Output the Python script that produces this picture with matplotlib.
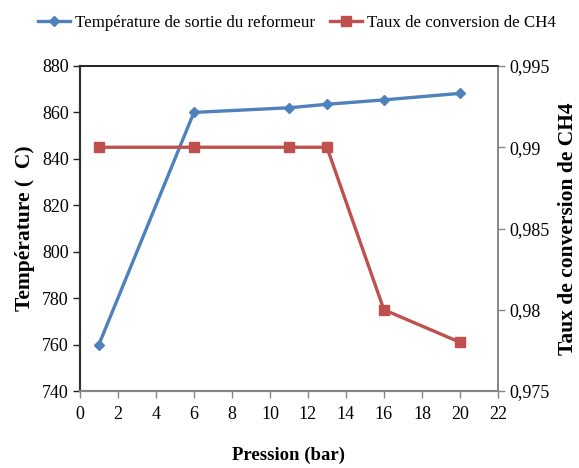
import matplotlib
matplotlib.use("Agg")
import matplotlib.pyplot as plt
from matplotlib.ticker import FuncFormatter

plt.rcParams['font.family'] = ['Liberation Serif', 'DejaVu Serif']

# Data
pression = [1, 6, 11, 13, 16, 20]
temperature = [760, 860, 862, 863.5, 865.4, 868.2]
conversion = [0.99, 0.99, 0.99, 0.99, 0.98, 0.978]

x_ticks = list(range(0, 23, 2))
temp_ticks = list(range(740, 881, 20))
conv_ticks = [0.975, 0.98, 0.985, 0.99, 0.995]

blue = '#4F81BD'
red = '#C0504D'
gray = '#868686'

fig = plt.figure(figsize=(5.79, 4.68), dpi=100)
ax = fig.add_axes([0.138, 0.1645, 0.722, 0.6945])
ax2 = ax.twinx()

l1, = ax.plot(pression, temperature, color=blue, lw=2.4, marker='D',
              markersize=5.5, label='Température de sortie du reformeur', zorder=3)
l2, = ax2.plot(pression, conversion, color=red, lw=2.4, marker='s',
               markersize=6.5, label='Taux de conversion de CH4', zorder=3)

ax.set_xlim(0, 22)
ax.set_ylim(740, 880)
ax2.set_ylim(0.975, 0.995)
ax.set_xticks(x_ticks)
ax.set_yticks(temp_ticks)
ax2.set_yticks(conv_ticks)

def comma_fmt(v, pos):
    s = ('%.3f' % v).rstrip('0').rstrip('.')
    return s.replace('.', ',')

ax2.yaxis.set_major_formatter(FuncFormatter(comma_fmt))

fs = 13
ax.tick_params(axis='x', direction='out', length=5, width=1, color=gray,
               labelsize=fs, pad=6)
ax.tick_params(axis='y', direction='out', length=5, width=1, color='#222222',
               labelsize=fs, pad=3)
ax2.tick_params(axis='y', direction='out', length=5, width=1, color=gray,
                labelsize=fs, pad=3)

for a in (ax, ax2):
    a.spines['top'].set_color('#222222')
    a.spines['top'].set_linewidth(1.2)
    a.spines['bottom'].set_color(gray)
    a.spines['bottom'].set_linewidth(1.5)
    a.spines['left'].set_color('#333333')
    a.spines['left'].set_linewidth(1.5)
    a.spines['right'].set_color(gray)
    a.spines['right'].set_linewidth(1.2)

ax.set_xlabel('Pression (bar)', fontsize=13.5, fontweight='bold', labelpad=17)
ax.set_ylabel('Température (  C)', fontsize=15.5, fontweight='bold', labelpad=5)
ax2.set_ylabel('Taux de conversion de CH4', fontsize=15.5, fontweight='bold',
               labelpad=6)

fig.legend(handles=[l1, l2], loc='upper center', bbox_to_anchor=(0.513, 1.0),
           ncol=2, frameon=False, fontsize=12.2, handlelength=1.9,
           columnspacing=0.9, handletextpad=0.3)

fig.savefig('out.png', dpi=100)
